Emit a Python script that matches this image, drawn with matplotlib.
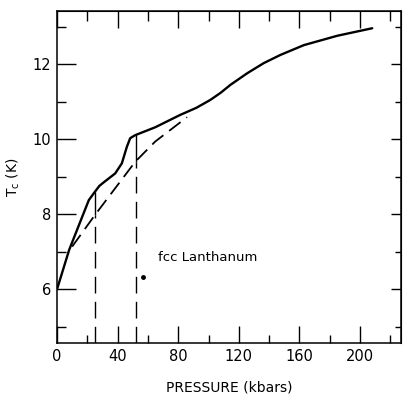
import matplotlib
matplotlib.use('Agg')
import matplotlib.pyplot as plt
from matplotlib.ticker import MultipleLocator

# solid Tc(P) curve
p_solid = [0, 8, 16.3, 21, 25, 28, 31.7, 38.4, 42.8, 46.1, 48.3, 51.6, 64.8,
           81.3, 92, 101.2, 108, 114.4, 125.5, 136.4, 147.5, 162.9, 185, 208]
tc_solid = [6.0, 7.05, 7.9, 8.38, 8.6, 8.76, 8.88, 9.09, 9.36, 9.80, 10.03, 10.11, 10.32,
            10.65, 10.84, 11.05, 11.24, 11.45, 11.76, 12.03, 12.25, 12.51, 12.76, 12.96]

# dashed curve
p_dash = [10, 25, 51.6, 64.8, 85.8]
tc_dash = [7.14, 7.98, 9.40, 9.94, 10.59]

# phase boundaries (vertical lines)
p_bound = [25, 52]
tc_top = [8.6, 10.11]
tc_mid = [7.98, 9.40]

# fcc point
p_fcc = [56.5]
tc_fcc = [6.32]

fig = plt.figure(figsize=(4.06, 3.95), dpi=100)
ax = fig.add_axes([0.1404, 0.1316, 0.8473, 0.8406])

ax.plot(p_solid, tc_solid, color='black', lw=1.7, solid_capstyle='round',
        solid_joinstyle='round')
ax.plot(p_dash, tc_dash, color='black', lw=1.3, dashes=(8, 4))
ax.vlines(p_bound, tc_mid, tc_top, color='black', lw=1.0)
ax.vlines(p_bound, 4.57, tc_mid, color='black', lw=1.0, linestyles=(0, (12, 6)))
ax.plot(p_fcc, tc_fcc, 'k.', markersize=5)
ax.text(66.8, 6.86, 'fcc Lanthanum', fontsize=9.5, va='center', ha='left')

ax.set_xlim(0, 227)
ax.set_ylim(4.57, 13.42)
ax.xaxis.set_major_locator(MultipleLocator(40))
ax.xaxis.set_minor_locator(MultipleLocator(20))
ax.yaxis.set_major_locator(MultipleLocator(2))
ax.yaxis.set_minor_locator(MultipleLocator(1))
ax.tick_params(which='both', direction='in', width=1.0, labelsize=10.5)
ax.tick_params(axis='x', which='major', length=12, pad=4)
ax.tick_params(axis='x', which='minor', length=6)
ax.tick_params(axis='y', which='major', length=13.5, pad=4)
ax.tick_params(axis='y', which='minor', length=6.5)
for s in ax.spines.values():
    s.set_linewidth(1.1)

# top and right ticks (different lengths than bottom/left)
top = ax.secondary_xaxis('top')
top.xaxis.set_major_locator(MultipleLocator(40))
top.xaxis.set_minor_locator(MultipleLocator(20))
top.tick_params(which='both', direction='in', width=1.0, labeltop=False)
top.tick_params(which='major', length=12)
top.tick_params(which='minor', length=7)
right = ax.secondary_yaxis('right')
right.yaxis.set_major_locator(MultipleLocator(2))
right.yaxis.set_minor_locator(MultipleLocator(1))
right.tick_params(which='both', direction='in', width=1.0, labelright=False)
right.tick_params(which='major', length=7)
right.tick_params(which='minor', length=4)

ax.set_xlabel('PRESSURE (kbars)', fontsize=10, labelpad=12)
ax.set_ylabel('$\\mathregular{T_c}$ (K)', fontsize=10, labelpad=8)

fig.savefig('out.png', dpi=100)
